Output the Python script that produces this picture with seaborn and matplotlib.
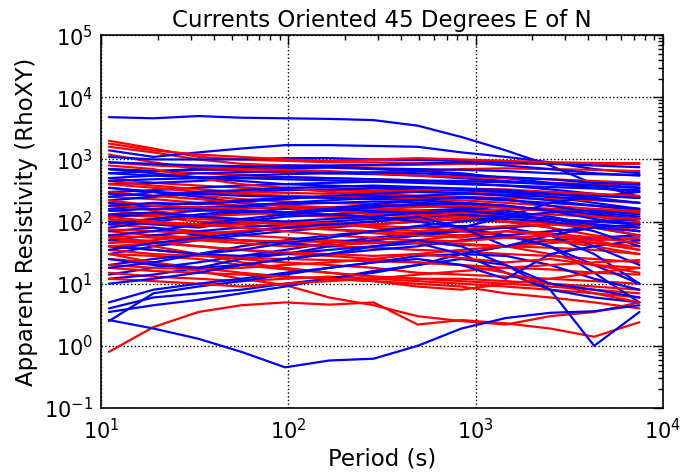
import numpy as np
import pandas as pd
import matplotlib
matplotlib.use("Agg")
import matplotlib.pyplot as plt
import seaborn as sns

# -------------------------------
# Periods (s) sampled by every station
# -------------------------------
periods = [11, 19, 33, 56, 96, 165, 285, 490, 840, 1450, 2500, 4300, 7500]

# -------------------------------
# Apparent resistivity curves
# -------------------------------
red_curves = [
    [2000, 1500, 1100, 1000, 950, 900, 900, 880, 870, 860, 850, 850, 850],
    [1600, 1300, 1000, 850, 800, 780, 800, 820, 850, 870, 880, 870, 860],
    [1200, 900, 700, 650, 620, 600, 620, 650, 700, 720, 700, 680, 650],
    [700, 650, 600, 560, 520, 500, 480, 460, 450, 430, 420, 400, 380],
    [500, 420, 380, 350, 330, 320, 310, 300, 290, 280, 270, 260, 250],
    [350, 300, 260, 230, 210, 200, 190, 180, 175, 170, 160, 150, 140],
    [250, 230, 200, 180, 160, 150, 140, 130, 125, 120, 110, 100, 95],
    [180, 160, 150, 140, 130, 120, 115, 110, 105, 100, 95, 85, 80],
    [130, 120, 100, 90, 80, 75, 70, 65, 60, 55, 50, 45, 40],
    [90, 80, 70, 60, 55, 50, 48, 45, 42, 40, 38, 35, 30],
    [70, 60, 55, 50, 45, 40, 38, 35, 33, 30, 28, 25, 22],
    [50, 45, 40, 35, 30, 28, 25, 22, 20, 18, 17, 15, 14],
    [40, 35, 30, 25, 22, 20, 18, 15, 14, 13, 12, 11, 10],
    [30, 28, 25, 20, 17, 15, 13, 12, 11, 10, 9, 8, 7],
    [25, 22, 18, 15, 13, 12, 11, 10, 9, 7, 6, 5, 4],
    [0.8, 2.0, 3.5, 4.5, 5.0, 4.6, 5.0, 2.2, 2.6, 2.3, 1.9, 1.4, 2.4],
    [30, 22, 16, 12, 9.5, 6, 4.5, 3, 2.5, 2.2, 3, 3.5, 5],
    [15, 13, 12, 11, 12, 13, 12, 11, 10, 9, 8, 7, 6],
    [60, 40, 30, 22, 18, 15, 13, 12, 12, 11, 10, 9, 8],
    [200, 150, 120, 100, 90, 85, 90, 100, 110, 120, 130, 120, 100],
    [400, 350, 300, 280, 260, 250, 240, 230, 220, 200, 180, 160, 150],
    [100, 110, 120, 130, 140, 150, 160, 170, 180, 170, 160, 150, 140],
    [45, 50, 60, 70, 80, 90, 100, 110, 120, 100, 80, 60, 50],
    [20, 18, 17, 18, 20, 22, 25, 30, 35, 40, 45, 50, 55],
    [150, 130, 110, 100, 95, 90, 85, 80, 70, 60, 50, 40, 30],
    [800, 700, 500, 400, 350, 300, 280, 260, 250, 240, 230, 220, 200],
    [35, 30, 28, 26, 25, 24, 23, 22, 20, 15, 10, 7, 5],
    [12, 11, 10, 9, 10, 11, 12, 14, 16, 18, 20, 22, 24],
    [300, 260, 230, 200, 180, 170, 160, 150, 140, 130, 110, 90, 70],
    [60, 55, 52, 50, 48, 47, 46, 45, 44, 40, 30, 20, 15],
    [1800, 1400, 1200, 1100, 1000, 950, 1000, 1050, 1000, 950, 900, 880, 870],
    [900, 800, 750, 700, 680, 650, 600, 550, 520, 500, 480, 450, 420],
    [450, 380, 330, 300, 290, 280, 300, 320, 340, 330, 300, 280, 260],
    [220, 180, 170, 160, 170, 150, 130, 120, 140, 160, 150, 120, 110],
    [110, 95, 85, 90, 100, 95, 80, 70, 75, 85, 90, 80, 60],
    [75, 70, 65, 70, 80, 75, 65, 60, 55, 70, 65, 55, 45],
    [40, 45, 50, 45, 40, 42, 45, 50, 60, 70, 60, 45, 35],
    [55, 48, 40, 35, 32, 30, 28, 30, 26, 22, 25, 20, 18],
    [18, 16, 15, 14, 13, 12, 11, 9, 8, 10, 12, 15, 18],
    [120, 100, 90, 80, 70, 60, 55, 50, 48, 55, 60, 50, 35],
]

blue_curves = [
    [4800, 4600, 5000, 4700, 4600, 4500, 4300, 3500, 2300, 1400, 800, 400, 250],
    [1400, 1100, 1300, 1500, 1700, 1700, 1650, 1600, 1300, 1100, 900, 700, 600],
    [1100, 1000, 1000, 1000, 1050, 1050, 1000, 980, 950, 900, 850, 800, 750],
    [700, 650, 700, 750, 800, 800, 820, 850, 900, 800, 700, 600, 550],
    [500, 550, 600, 620, 650, 600, 580, 550, 500, 450, 400, 350, 300],
    [400, 420, 450, 500, 520, 500, 480, 460, 420, 380, 330, 280, 240],
    [300, 320, 350, 380, 400, 420, 440, 450, 450, 430, 400, 380, 350],
    [220, 250, 280, 300, 320, 330, 340, 330, 320, 300, 250, 200, 160],
    [160, 180, 200, 220, 240, 250, 260, 250, 240, 220, 200, 180, 150],
    [120, 130, 150, 170, 190, 200, 210, 200, 190, 170, 150, 130, 110],
    [80, 100, 120, 140, 160, 170, 180, 180, 170, 150, 120, 90, 70],
    [50, 60, 70, 80, 90, 100, 110, 120, 120, 110, 100, 80, 60],
    [30, 40, 50, 60, 70, 80, 90, 100, 110, 100, 80, 40, 20],
    [20, 25, 30, 40, 50, 60, 70, 80, 85, 80, 60, 30, 10],
    [14, 18, 22, 28, 35, 45, 55, 65, 70, 60, 40, 15, 5],
    [4, 6, 7, 8, 10, 12, 15, 20, 30, 40, 50, 55, 60],
    [2.6, 1.9, 1.3, 0.8, 0.45, 0.58, 0.62, 1.0, 1.9, 2.8, 3.4, 3.6, 4.5],
    [3.5, 4.5, 5.5, 7, 9, 12, 16, 20, 25, 20, 8, 1.0, 3.5],
    [2.5, 7, 9, 11, 14, 18, 22, 28, 30, 28, 20, 12, 8],
    [12, 14, 18, 25, 30, 40, 50, 60, 70, 80, 90, 100, 110],
    [700, 600, 500, 450, 400, 380, 360, 340, 320, 300, 280, 260, 240],
    [600, 650, 680, 700, 720, 740, 700, 650, 600, 500, 420, 380, 350],
    [250, 300, 250, 200, 180, 160, 150, 140, 130, 120, 110, 100, 90],
    [100, 90, 80, 100, 120, 130, 140, 150, 160, 140, 100, 70, 40],
    [40, 35, 30, 28, 30, 35, 40, 45, 30, 15, 8, 6, 5],
    [200, 180, 160, 150, 140, 130, 120, 100, 80, 60, 40, 20, 10],
    [70, 80, 60, 50, 45, 40, 50, 60, 80, 120, 200, 250, 300],
    [350, 300, 280, 260, 250, 240, 230, 220, 200, 180, 150, 130, 110],
    [25, 20, 18, 20, 25, 30, 35, 40, 50, 60, 70, 80, 90],
    [5, 8, 10, 12, 15, 18, 22, 25, 20, 12, 30, 40, 50],
    [600, 550, 520, 500, 480, 460, 440, 420, 400, 380, 360, 340, 320],
    [150, 160, 170, 180, 200, 220, 240, 260, 280, 270, 250, 230, 200],
    [900, 850, 800, 780, 760, 750, 720, 700, 680, 650, 600, 580, 560],
    [450, 480, 500, 550, 580, 600, 620, 600, 560, 520, 480, 420, 400],
    [280, 260, 300, 320, 350, 360, 380, 360, 340, 320, 280, 240, 200],
    [180, 200, 190, 210, 230, 260, 280, 300, 290, 260, 220, 180, 160],
    [90, 110, 130, 150, 140, 160, 190, 220, 250, 230, 180, 140, 120],
    [60, 70, 90, 110, 130, 150, 170, 190, 200, 180, 150, 110, 90],
    [35, 45, 55, 65, 80, 90, 100, 120, 80, 40, 60, 80, 70],
    [18, 22, 30, 35, 45, 55, 70, 85, 100, 120, 140, 150, 130],
    [130, 140, 120, 110, 100, 110, 120, 140, 150, 130, 110, 90, 80],
    [10, 12, 15, 20, 25, 30, 40, 50, 40, 20, 10, 8, 6],
]

# -------------------------------
# Build a long table, interleaving red and blue stations
# -------------------------------
rows = []
site = 0
for i in range(max(len(red_curves), len(blue_curves))):
    for colour, curves in (("red", red_curves), ("blue", blue_curves)):
        if i < len(curves):
            for p, r in zip(periods, curves[i]):
                rows.append({"site": site, "colour": colour, "period": p, "rho": r})
            site += 1
df = pd.DataFrame(rows)

# -------------------------------
# Plot
# -------------------------------
sns.set_style("white")
plt.rcParams["font.family"] = ["DejaVu Sans"]
plt.rcParams["text.color"] = "black"
plt.rcParams["axes.labelcolor"] = "black"
plt.rcParams["xtick.color"] = "black"
plt.rcParams["ytick.color"] = "black"

fig = plt.figure(figsize=(6.84, 4.76), dpi=100)
ax = fig.add_axes([0.148, 0.143, 0.821, 0.783])

for s, grp in df.groupby("site", sort=True):
    sns.lineplot(data=grp, x="period", y="rho", color=grp["colour"].iloc[0],
                 lw=1.6, estimator=None, legend=False, ax=ax)

ax.set_xscale("log")
ax.set_yscale("log")
ax.set_xlim(10, 1e4)
ax.set_ylim(0.1, 1e5)

ax.grid(True, which="major", color="black", linestyle=":", linewidth=1.0)
ax.tick_params(which="both", direction="in", top=True, right=True, colors="black")
ax.tick_params(which="major", length=7, width=1, labelsize=15)
ax.tick_params(axis="x", which="major", pad=7)
ax.tick_params(axis="y", which="major", pad=6)
ax.tick_params(which="minor", length=3.5, width=1)
for sp in ax.spines.values():
    sp.set_color("black")
    sp.set_linewidth(1.2)

ax.set_title("Currents Oriented 45 Degrees E of N", fontsize=16.5, color="black")
ax.set_xlabel("Period (s)", fontsize=16.5, labelpad=3, color="black")
ax.set_ylabel("Apparent Resistivity (RhoXY)", fontsize=16.5, labelpad=4, color="black")

fig.savefig("out.png", dpi=100)
